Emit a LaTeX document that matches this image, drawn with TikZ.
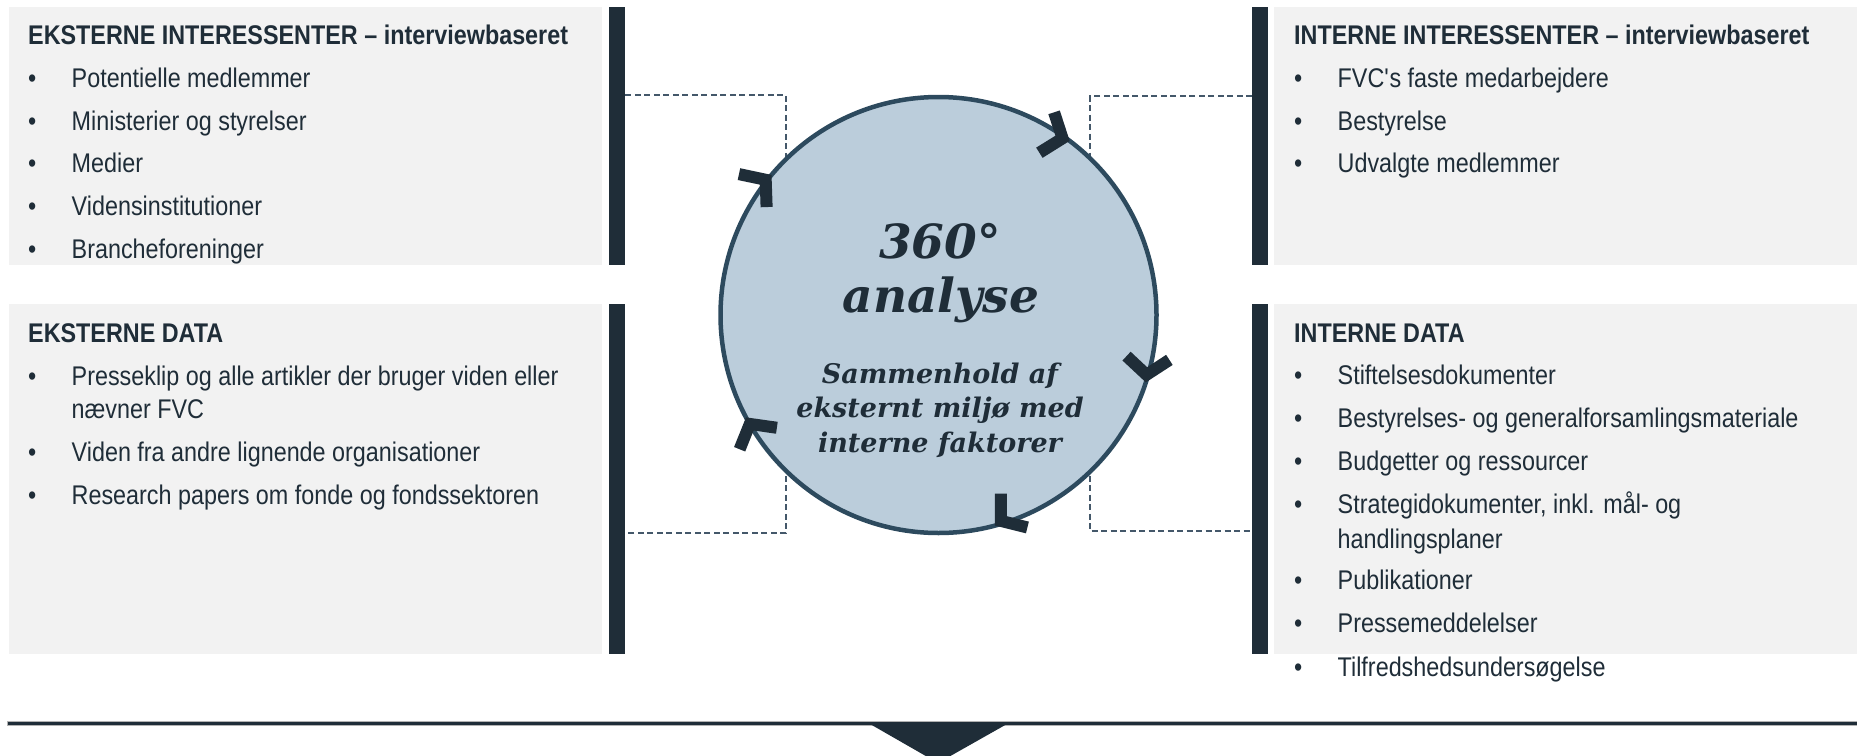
\documentclass[tikz,border=0pt]{standalone}
\usepackage{fontspec}
\setmainfont{Liberation Sans}[FakeStretch=0.865]
\newfontfamily\ringfont{DejaVu Serif}
\usetikzlibrary{calc}
\definecolor{textdark}{HTML}{1F2D38}
\definecolor{bardark}{HTML}{1F2D38}
\definecolor{boxgray}{HTML}{F2F2F2}
\definecolor{ringfill}{HTML}{BBCDDB}
\definecolor{ringline}{HTML}{2D4A5E}
\definecolor{dashgray}{HTML}{44586A}
\tikzstyle{box}=[rectangle, fill=boxgray, inner sep=0pt, anchor=north west]
\tikzstyle{bar}=[rectangle, fill=bardark, inner sep=0pt, minimum width=16, anchor=north west]
\tikzstyle{head}=[anchor=base west, inner sep=0pt, text=textdark, font=\fontsize{27}{32}\selectfont\bfseries]
\tikzstyle{entry}=[anchor=base west, inner sep=0pt, text=textdark, font=\fontsize{27}{32}\selectfont]
\tikzstyle{link}=[draw=dashgray, line width=1.8, dash pattern=on 6 off 3.5]
\tikzstyle{ringtext}=[anchor=base, inner sep=0pt, text=textdark, align=center]
\newcommand{\bulletentry}[4]
{
  \node[entry] (#1-dot) at (#2,#3) {•};
  \node[entry] (#1) at (#2+43.5,#3) {#4};
}
\newcommand{\drawchevron}[2]
{
  \fill[bardark, shift={(ring.#1)}, rotate=#2] (0,0) -- (-19.7,25.2) -- (-29.2,17.8) -- (-15.2,0) -- (-29.2,-17.8) -- (-19.7,-25.2) -- cycle;
}
\begin{document}
\begin{tikzpicture}[x=1pt, y=-1pt]
	\useasboundingbox (0,0) rectangle (1857,755);

	% boxes and bars
	\node[box, minimum width=593, minimum height=258] (exttop) at (9,7) {};
	\node[box, minimum width=593, minimum height=350] (extbot) at (9,304) {};
	\node[box, minimum width=583, minimum height=258] (inttop) at (1274,7) {};
	\node[box, minimum width=583, minimum height=350] (intbot) at (1274,304) {};
	\node[bar, minimum height=258] (lbartop) at (609,7) {};
	\node[bar, minimum height=350] (lbarbot) at (609,304) {};
	\node[bar, minimum height=258] (rbartop) at (1252,7) {};
	\node[bar, minimum height=350] (rbarbot) at (1252,304) {};

	% dashed links behind the ring
	\draw[link] (lbartop.east |- 0,95) -- (786,95) -- (786,533) -- (lbarbot.east |- 0,533);
	\draw[link] (rbartop.west |- 0,96) -- (1090,96) -- (1090,531) -- (rbarbot.west |- 0,531);

	% the ring
	\node[circle, minimum size=436, inner sep=0pt, outer sep=0pt, draw=ringline, line width=4.5, fill=ringfill] (ring) at (938.5,315) {};
	\foreach \a/\r in {140/40, 53/-20, -18/-95, -75/218, 208/120}
		\drawchevron{\a}{\r};

	\node[ringtext, font=\ringfont\bfseries\itshape\fontsize{47}{53}\selectfont] (deg) at (940,258) {360°};
	\node[ringtext, font=\ringfont\bfseries\itshape\fontsize{47}{53}\selectfont] (ana) at (941,312) {analyse};
	\node[ringtext, font=\ringfont\bfseries\itshape\fontsize{27}{34.5}\selectfont] (sub) at (940,452) {Sammenhold af\\eksternt miljø med\\interne faktorer};

	% ekstern
	\node[head] (exthead) at (28,44) {EKSTERNE INTERESSENTER – interviewbaseret};
	\bulletentry{e1}{28}{87}{Potentielle medlemmer}
	\bulletentry{e2}{28}{130}{Ministerier og styrelser}
	\bulletentry{e3}{28}{172}{Medier}
	\bulletentry{e4}{28}{215}{Vidensinstitutioner}
	\bulletentry{e5}{28}{258}{Brancheforeninger}

	\node[head] (extdata) at (28,342) {EKSTERNE DATA};
	\bulletentry{d1}{28}{385}{Presseklip og alle artikler der bruger viden eller}
	\node[entry] (d1b) at (71.5,418) {nævner FVC};
	\bulletentry{d2}{28}{461}{Viden fra andre lignende organisationer}
	\bulletentry{d3}{28}{504}{Research papers om fonde og fondssektoren}

	% intern
	\node[head] (inthead) at (1294,44) {INTERNE INTERESSENTER – interviewbaseret};
	\bulletentry{i1}{1294}{87}{FVC\textquotesingle s faste medarbejdere}
	\bulletentry{i2}{1294}{130}{Bestyrelse}
	\bulletentry{i3}{1294}{172}{Udvalgte medlemmer}

	\node[head] (intdata) at (1294,342) {INTERNE DATA};
	\bulletentry{n1}{1294}{384}{Stiftelsesdokumenter}
	\bulletentry{n2}{1294}{427}{Bestyrelses- og generalforsamlingsmateriale}
	\bulletentry{n3}{1294}{470}{Budgetter og ressourcer}
	\bulletentry{n4}{1294}{513}{Strategidokumenter, inkl. mål- og}
	\node[entry] (n4b) at (1337.5,548) {handlingsplaner};
	\bulletentry{n5}{1294}{589}{Publikationer}
	\bulletentry{n6}{1294}{632}{Pressemeddelelser}
	\bulletentry{n7}{1294}{676}{Tilfredshedsundersøgelse}

	% bottom line with arrow
	\fill[bardark, draw=gray!60, line width=0.8] (7,721) rectangle (1857,725);
	\fill[bardark] (870,724) -- (1007,724) -- (938,763) -- cycle;

\end{tikzpicture}
\end{document}
